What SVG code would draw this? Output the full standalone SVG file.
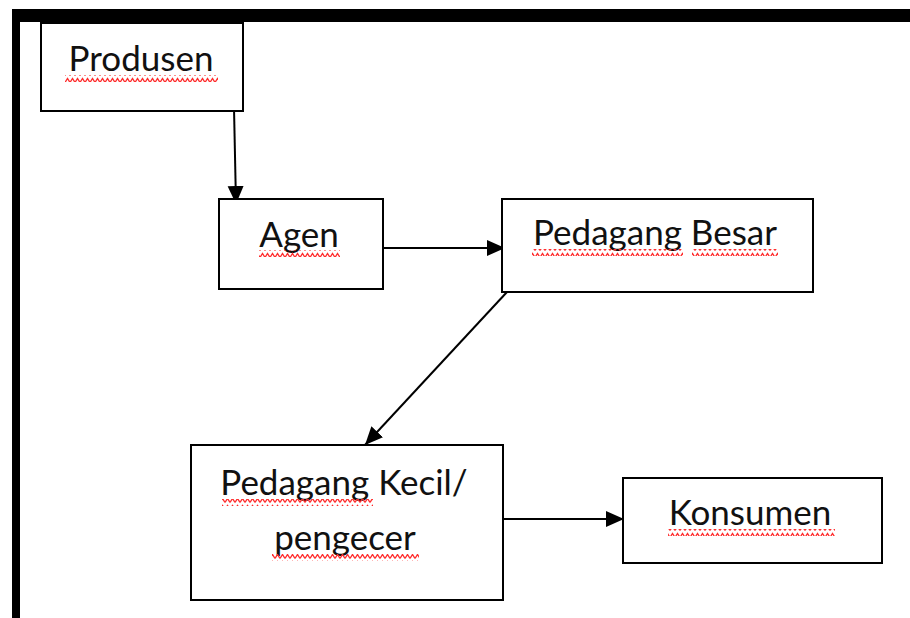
<svg xmlns="http://www.w3.org/2000/svg" width="910" height="618" viewBox="0 0 910 618">
  <style>
    .box { fill: #fff; stroke: #000; stroke-width: 2; }
    .lbl { font-family: Lato, "Open Sans", "Liberation Sans", sans-serif; font-size: 35px; fill: #111; }
    .edge { stroke: #000; stroke-width: 2; fill: none; marker-end: url(#arr); }
    .sq { fill: url(#wave); }
  </style>
  <defs>
    <marker id="arr" markerUnits="userSpaceOnUse" markerWidth="20" markerHeight="18" refX="18" refY="8" orient="auto">
      <path d="M0,0 L18,8 L0,16 Z" fill="#000"/>
    </marker>
    <pattern id="wave" patternUnits="userSpaceOnUse" width="5" height="7">
      <path d="M0,5.5 L2.5,1.5 L5,5.5" stroke="#ff2a2a" stroke-width="1.4" fill="none"/>
    </pattern>
  </defs>
  <rect width="910" height="618" fill="#fff"/>
  <!-- frame -->
  <rect x="12" y="9" width="898" height="13" fill="#000"/>
  <rect x="12" y="9" width="8" height="609" fill="#000"/>

  <g id="connectors">
    <line class="edge" x1="234" y1="108" x2="236" y2="204"/>
    <line class="edge" x1="383" y1="248" x2="505" y2="248"/>
    <line class="edge" x1="507" y1="292" x2="365" y2="445"/>
    <line class="edge" x1="503" y1="519" x2="624" y2="519"/>
  </g>

  <g id="produsen">
    <rect class="box" x="41" y="23" width="202" height="88"/>
    <text class="lbl" x="141" y="71" text-anchor="middle">Produsen</text>
    <rect class="sq" x="65" y="75" width="153" height="7"/>
  </g>
  <g id="agen">
    <rect class="box" x="219" y="199" width="164" height="90"/>
    <text class="lbl" x="299" y="247" text-anchor="middle">Agen</text>
    <rect class="sq" x="259" y="250" width="81" height="7"/>
  </g>
  <g id="pedagang-besar">
    <rect class="box" x="502" y="199" width="311" height="93"/>
    <text class="lbl" x="655" y="245" text-anchor="middle">Pedagang Besar</text>
    <rect class="sq" x="532" y="249" width="151" height="7"/>
    <rect class="sq" x="692" y="249" width="86" height="7"/>
  </g>
  <g id="pedagang-kecil">
    <rect class="box" x="191" y="445" width="312" height="155"/>
    <text class="lbl" x="344" y="495" text-anchor="middle">Pedagang Kecil/</text>
    <rect class="sq" x="222" y="499" width="151" height="7"/>
    <text class="lbl" x="345" y="550" text-anchor="middle">pengecer</text>
    <rect class="sq" x="272" y="554" width="147" height="7"/>
  </g>
  <g id="konsumen">
    <rect class="box" x="623" y="478" width="259" height="85"/>
    <text class="lbl" x="750" y="525" text-anchor="middle">Konsumen</text>
    <rect class="sq" x="668" y="529" width="167" height="7"/>
  </g>
</svg>
